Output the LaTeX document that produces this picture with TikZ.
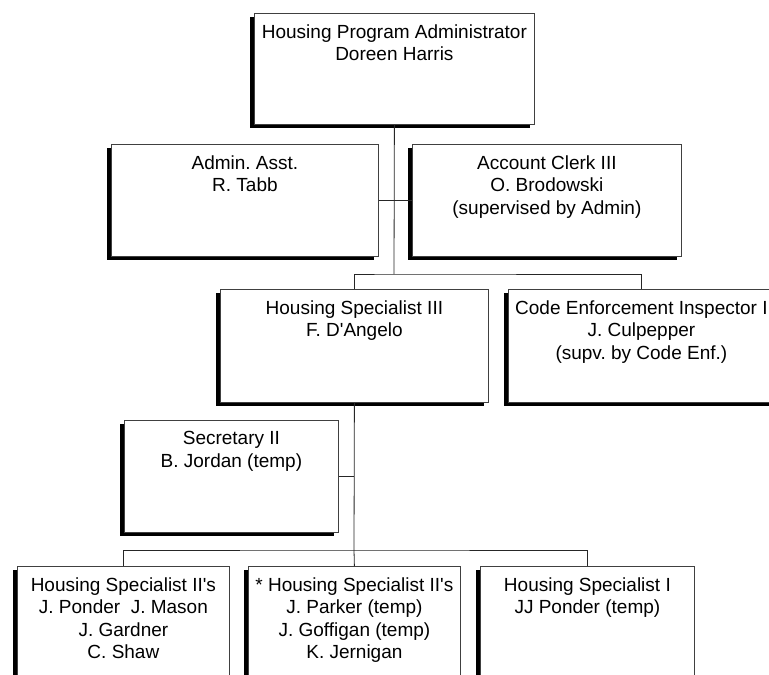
\documentclass[tikz,border=0pt]{standalone}
\usepackage{fontspec}
\setmainfont{Liberation Sans}
\frenchspacing
\usepackage{tikz}
\usetikzlibrary{positioning,shadows}
\tikzstyle{orgbox} = [draw=black!75, fill=white, line width=0.8pt, inner sep=0pt, anchor=north west,
    font=\fontsize{19}{22.5}\selectfont,
    drop shadow={shadow xshift=-4.5pt, shadow yshift=-3.5pt, fill=black, opacity=1}]
\tikzstyle{connector} = [draw=black!85, line width=0.8pt]

\begin{document}
\begin{tikzpicture}[x=1pt,y=-1pt]
\useasboundingbox (0,0) rectangle (769,675);
\clip (0,0) rectangle (769,675);
% top
\node [orgbox] (hpa) at (254,13) {%
    \begin{minipage}[t][111pt][t]{280pt}\centering\vspace*{11pt}
    Housing Program Administrator\\Doreen Harris
    \end{minipage}
};
% staff
\node [orgbox] (admin) at (111,144) {%
    \begin{minipage}[t][112pt][t]{267pt}\centering\vspace*{11pt}
    Admin. Asst.\\R. Tabb
    \end{minipage}
};
\node [orgbox] (clerk) at (412,144) {%
    \begin{minipage}[t][112pt][t]{269pt}\centering\vspace*{11pt}
    Account Clerk III\\O. Brodowski\\(supervised by Admin)
    \end{minipage}
};
% second level
\node [orgbox] (hs3) at (220,289) {%
    \begin{minipage}[t][113pt][t]{268pt}\centering\vspace*{11pt}
    Housing Specialist III\\F. D\textquotesingle Angelo
    \end{minipage}
};
\node [orgbox] (code) at (508,289) {%
    \begin{minipage}[t][113pt][t]{266pt}\centering\vspace*{11pt}
    Code Enforcement Inspector I\\J. Culpepper\\(supv. by Code Enf.)
    \end{minipage}
};
\node [orgbox] (sec) at (124,420) {%
    \begin{minipage}[t][112pt][t]{214pt}\centering\vspace*{11pt}
    Secretary II\\B. Jordan (temp)
    \end{minipage}
};
% bottom row
\node [orgbox] (hs2a) at (17,566) {%
    \begin{minipage}[t][112pt][t]{212pt}\centering\vspace*{11pt}
    Housing Specialist II\textquotesingle s\\J. Ponder~~J. Mason\\J. Gardner\\C. Shaw
    \end{minipage}
};
\node [orgbox] (hs2b) at (248,566) {%
    \begin{minipage}[t][112pt][t]{212pt}\centering\vspace*{11pt}
    * Housing Specialist II\textquotesingle s\\J. Parker (temp)\\J. Goffigan (temp)\\K. Jernigan
    \end{minipage}
};
\node [orgbox] (hs1) at (480,566) {%
    \begin{minipage}[t][112pt][t]{214pt}\centering\vspace*{11pt}
    Housing Specialist I\\JJ Ponder (temp)
    \end{minipage}
};
% lines
\coordinate (bus1) at (394,274);
\coordinate (bus2) at (354,550);
\draw[connector] (hpa.south) -- (bus1);
\draw[connector] (admin.east) -- (clerk.west);
\draw[connector] (hs3.north) |- (bus1) -| (code.north);
\draw[connector] (hs3.south) -- (bus2);
\draw[connector] (sec.east) -- (sec.east -| hs3.south);
\draw[connector] (hs2a.north) |- (bus2) -| (hs1.north);
\draw[connector] (bus2) -- (hs2b.north);
\end{tikzpicture}
\end{document}
